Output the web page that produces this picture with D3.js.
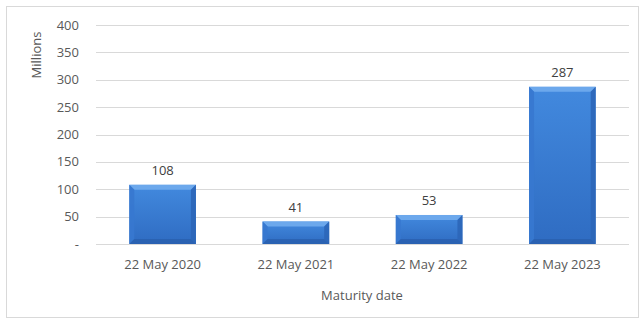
<!DOCTYPE html>
<html>
<head>
<meta charset="utf-8">
<script src="https://cdn.jsdelivr.net/npm/d3@7"></script>
<style>
  html, body { margin: 0; padding: 0; background: #fff; }
  svg { display: block; }
</style>
</head>
<body>
<div id="chart"></div>
<script>
// data
const dates = ["22 May 2020", "22 May 2021", "22 May 2022", "22 May 2023"];
const amounts = [108, 41, 53, 287];
const yTicks = [0, 50, 100, 150, 200, 250, 300, 350, 400];

const W = 639, H = 320;
const font = "'Open Sans', 'Liberation Sans', sans-serif";
const textCol = "#595959";

const svg = d3.select("#chart").append("svg")
    .attr("width", W).attr("height", H)
    .style("font-family", font);

// outer border
svg.append("rect")
    .attr("x", 6.5).attr("y", 6.5)
    .attr("width", 632).attr("height", 311)
    .attr("fill", "#fff").attr("stroke", "#d9d9d9");

const x = d3.scaleBand().domain(dates).range([96, 629])
    .paddingInner(0.5).paddingOuter(0.25);
const y = d3.scaleLinear().domain([0, 400]).range([244, 25]);

// gridlines
svg.append("g").selectAll("line")
    .data(yTicks)
    .join("line")
    .attr("x1", 96).attr("x2", 629)
    .attr("y1", d => Math.round(y(d)) + 0.5)
    .attr("y2", d => Math.round(y(d)) + 0.5)
    .attr("stroke", "#d9d9d9");

// y tick labels
svg.append("g").selectAll("text")
    .data(yTicks)
    .join("text")
    .attr("x", 79).attr("y", d => y(d))
    .attr("dy", "0.35em")
    .attr("text-anchor", "end")
    .style("font-size", "13px").attr("fill", textCol)
    .text(d => d === 0 ? "-" : d);

svg.append("text")
    .attr("transform", "translate(41,55) rotate(-90)")
    .attr("text-anchor", "middle")
    .style("font-size", "13px").attr("fill", textCol)
    .text("Millions");

// gradients for bevelled bars
const defs = svg.append("defs");
const gMain = defs.append("linearGradient").attr("id", "gMain")
    .attr("x1", 0).attr("y1", 0).attr("x2", 0).attr("y2", 1);
gMain.append("stop").attr("offset", "0%").attr("stop-color", "#4289de");
gMain.append("stop").attr("offset", "100%").attr("stop-color", "#2f6cc2");

const bars = svg.append("g").selectAll("g")
    .data(dates.map((d, i) => ({ date: d, value: amounts[i] })))
    .join("g");

const bev = 5;
bars.append("rect")
    .attr("x", d => x(d.date))
    .attr("y", d => y(d.value))
    .attr("width", x.bandwidth())
    .attr("height", d => y(0) - y(d.value))
    .attr("fill", "url(#gMain)");

// top bevel (light)
bars.append("path")
    .attr("fill", "#6ca8ec")
    .attr("d", d => {
        const x0 = x(d.date), x1 = x0 + x.bandwidth(), t = y(d.value);
        return `M${x0},${t}L${x1},${t}L${x1 - bev},${t + bev}L${x0 + bev},${t + bev}Z`;
    });
// left bevel
bars.append("path")
    .attr("fill", "#3778cf").attr("opacity", 0.9)
    .attr("d", d => {
        const x0 = x(d.date), t = y(d.value), b = y(0);
        return `M${x0},${t}L${x0 + bev},${t + bev}L${x0 + bev},${b - bev}L${x0},${b}Z`;
    });
// right bevel
bars.append("path")
    .attr("fill", "#2c66b8").attr("opacity", 0.9)
    .attr("d", d => {
        const x1 = x(d.date) + x.bandwidth(), t = y(d.value), b = y(0);
        return `M${x1},${t}L${x1 - bev},${t + bev}L${x1 - bev},${b - bev}L${x1},${b}Z`;
    });
// bottom bevel
bars.append("path")
    .attr("fill", "#295fae").attr("opacity", 0.8)
    .attr("d", d => {
        const x0 = x(d.date), x1 = x0 + x.bandwidth(), b = y(0);
        return `M${x0},${b}L${x1},${b}L${x1 - bev},${b - bev}L${x0 + bev},${b - bev}Z`;
    });

// value labels
bars.append("text")
    .attr("x", d => x(d.date) + x.bandwidth() / 2)
    .attr("y", d => y(d.value) - 10)
    .attr("text-anchor", "middle")
    .style("font-size", "13px").attr("fill", "#404040")
    .text(d => d.value);

// x labels
svg.append("g").selectAll("text")
    .data(dates)
    .join("text")
    .attr("x", d => x(d) + x.bandwidth() / 2)
    .attr("y", 264).attr("dy", "0.35em")
    .attr("text-anchor", "middle")
    .style("font-size", "13px").attr("fill", textCol)
    .text(d => d);

svg.append("text")
    .attr("x", 362).attr("y", 295).attr("dy", "0.35em")
    .attr("text-anchor", "middle")
    .style("font-size", "13px").attr("fill", textCol)
    .text("Maturity date");
</script>
</body>
</html>
